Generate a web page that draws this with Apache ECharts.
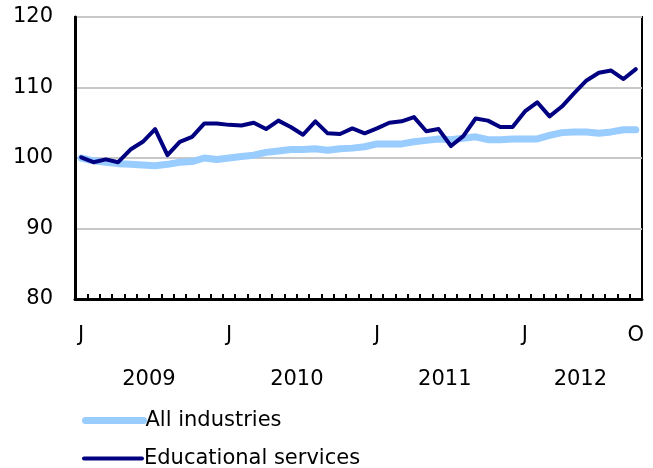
<!DOCTYPE html>
<html>
<head>
<meta charset="utf-8">
<script src="https://cdn.jsdelivr.net/npm/echarts@6/dist/echarts.min.js"></script>
<style>
html,body{margin:0;padding:0;background:#fff;}
#chart{width:653px;height:468px;}
</style>
</head>
<body>
<div id="chart"></div>
<script>
const categories = [
  'Jan 2009','Feb 2009','Mar 2009','Apr 2009','May 2009','Jun 2009','Jul 2009','Aug 2009','Sep 2009','Oct 2009','Nov 2009','Dec 2009',
  'Jan 2010','Feb 2010','Mar 2010','Apr 2010','May 2010','Jun 2010','Jul 2010','Aug 2010','Sep 2010','Oct 2010','Nov 2010','Dec 2010',
  'Jan 2011','Feb 2011','Mar 2011','Apr 2011','May 2011','Jun 2011','Jul 2011','Aug 2011','Sep 2011','Oct 2011','Nov 2011','Dec 2011',
  'Jan 2012','Feb 2012','Mar 2012','Apr 2012','May 2012','Jun 2012','Jul 2012','Aug 2012','Sep 2012','Oct 2012'
];
const monthTickLabels = [
  'J','','','','','','','','','','','',
  'J','','','','','','','','','','','',
  'J','','','','','','','','','','','',
  'J','','','','','','','','','O'
];
const yearLabels = ['2009','2010','2011','2012'];
const yearLabelPositions = [6, 18, 30, 41];
const yTicks = [80, 90, 100, 110, 120];
const seriesNames = ['All industries', 'Educational services'];

const allIndustries = [
  100.0, 99.6, 99.4, 99.2, 99.1, 99.0, 98.9, 99.1, 99.4, 99.5, 100.0, 99.8,
  100.0, 100.2, 100.4, 100.8, 101.0, 101.2, 101.2, 101.3, 101.1, 101.3, 101.4, 101.6,
  102.0, 102.0, 102.0, 102.3, 102.5, 102.7, 102.6, 102.8, 103.0, 102.6, 102.6, 102.7,
  102.7, 102.7, 103.2, 103.6, 103.7, 103.7, 103.5, 103.7, 104.0, 104.0
];
const educationalServices = [
  100.1, 99.4, 99.8, 99.4, 101.2, 102.3, 104.1, 100.4, 102.3, 103.0, 104.9, 104.9,
  104.7, 104.6, 105.0, 104.1, 105.3, 104.4, 103.3, 105.2, 103.5, 103.4, 104.2, 103.5,
  104.2, 105.0, 105.2, 105.8, 103.8, 104.1, 101.7, 103.1, 105.6, 105.3, 104.4, 104.4,
  106.6, 107.9, 105.9, 107.3, 109.2, 111.0, 112.1, 112.4, 111.2, 112.6
];

const FONT = '"DejaVu Sans", Verdana, sans-serif';
const FS = 21;
const legendBase = {
  orient: 'horizontal',
  left: 82,
  padding: 0,
  itemWidth: 58, itemHeight: 14,
  itemStyle: {opacity: 0},
  textStyle: {fontFamily: FONT, fontSize: FS, color: '#000', padding: [0, 0, 0, -3]}
};
const chart = echarts.init(document.getElementById('chart'), null, {renderer: 'canvas'});
chart.setOption({
  animation: false,
  backgroundColor: '#fff',
  textStyle: {fontFamily: FONT, color: '#000'},
  grid: {
    left: 75, right: 11, top: 17, bottom: 169,
    show: true, borderColor: '#000', borderWidth: 2, backgroundColor: 'transparent'
  },
  legend: [
    Object.assign({}, legendBase, {
      top: 410,
      data: [{name: seriesNames[0], lineStyle: {width: 7, cap: 'round'}}]
    }),
    Object.assign({}, legendBase, {
      top: 448,
      data: [{name: seriesNames[1], lineStyle: {width: 4, cap: 'round'}}]
    })
  ],
  xAxis: [{
    type: 'category',
    data: categories,
    boundaryGap: true,
    axisLine: {show: true, lineStyle: {color: '#000', width: 3}},
    axisTick: {show: true, inside: true, length: 5, interval: 0, lineStyle: {color: '#000', width: 2}},
    axisLabel: {
      interval: 0, margin: 26, fontFamily: FONT, fontSize: FS, color: '#000',
      formatter: (v, i) => monthTickLabels[i]
    },
    splitLine: {show: false}
  }, {
    type: 'value',
    position: 'bottom',
    offset: 44,
    min: 0, max: categories.length,
    axisLine: {show: false},
    axisTick: {show: false},
    splitLine: {show: false},
    axisLabel: {
      margin: 26, fontFamily: FONT, fontSize: FS, color: '#000',
      customValues: yearLabelPositions,
      formatter: (v) => yearLabels[yearLabelPositions.indexOf(v)]
    }
  }],
  yAxis: {
    type: 'value',
    min: yTicks[0], max: yTicks[yTicks.length - 1], interval: 10,
    axisLine: {show: true, lineStyle: {color: '#000', width: 3}},
    axisTick: {show: false},
    axisLabel: {margin: 22, fontFamily: FONT, fontSize: FS, color: '#000'},
    splitLine: {show: true, lineStyle: {color: '#c8c8c8', width: 2}}
  },
  series: [{
    name: seriesNames[0],
    type: 'line',
    data: allIndustries,
    symbol: 'none',
    color: '#99CCFF',
    lineStyle: {color: '#99CCFF', width: 7, cap: 'round', join: 'round'},
    z: 2
  }, {
    name: seriesNames[1],
    type: 'line',
    data: educationalServices,
    symbol: 'none',
    color: '#000080',
    lineStyle: {color: '#000080', width: 4, cap: 'round', join: 'round'},
    z: 3
  }]
});
</script>
</body>
</html>
